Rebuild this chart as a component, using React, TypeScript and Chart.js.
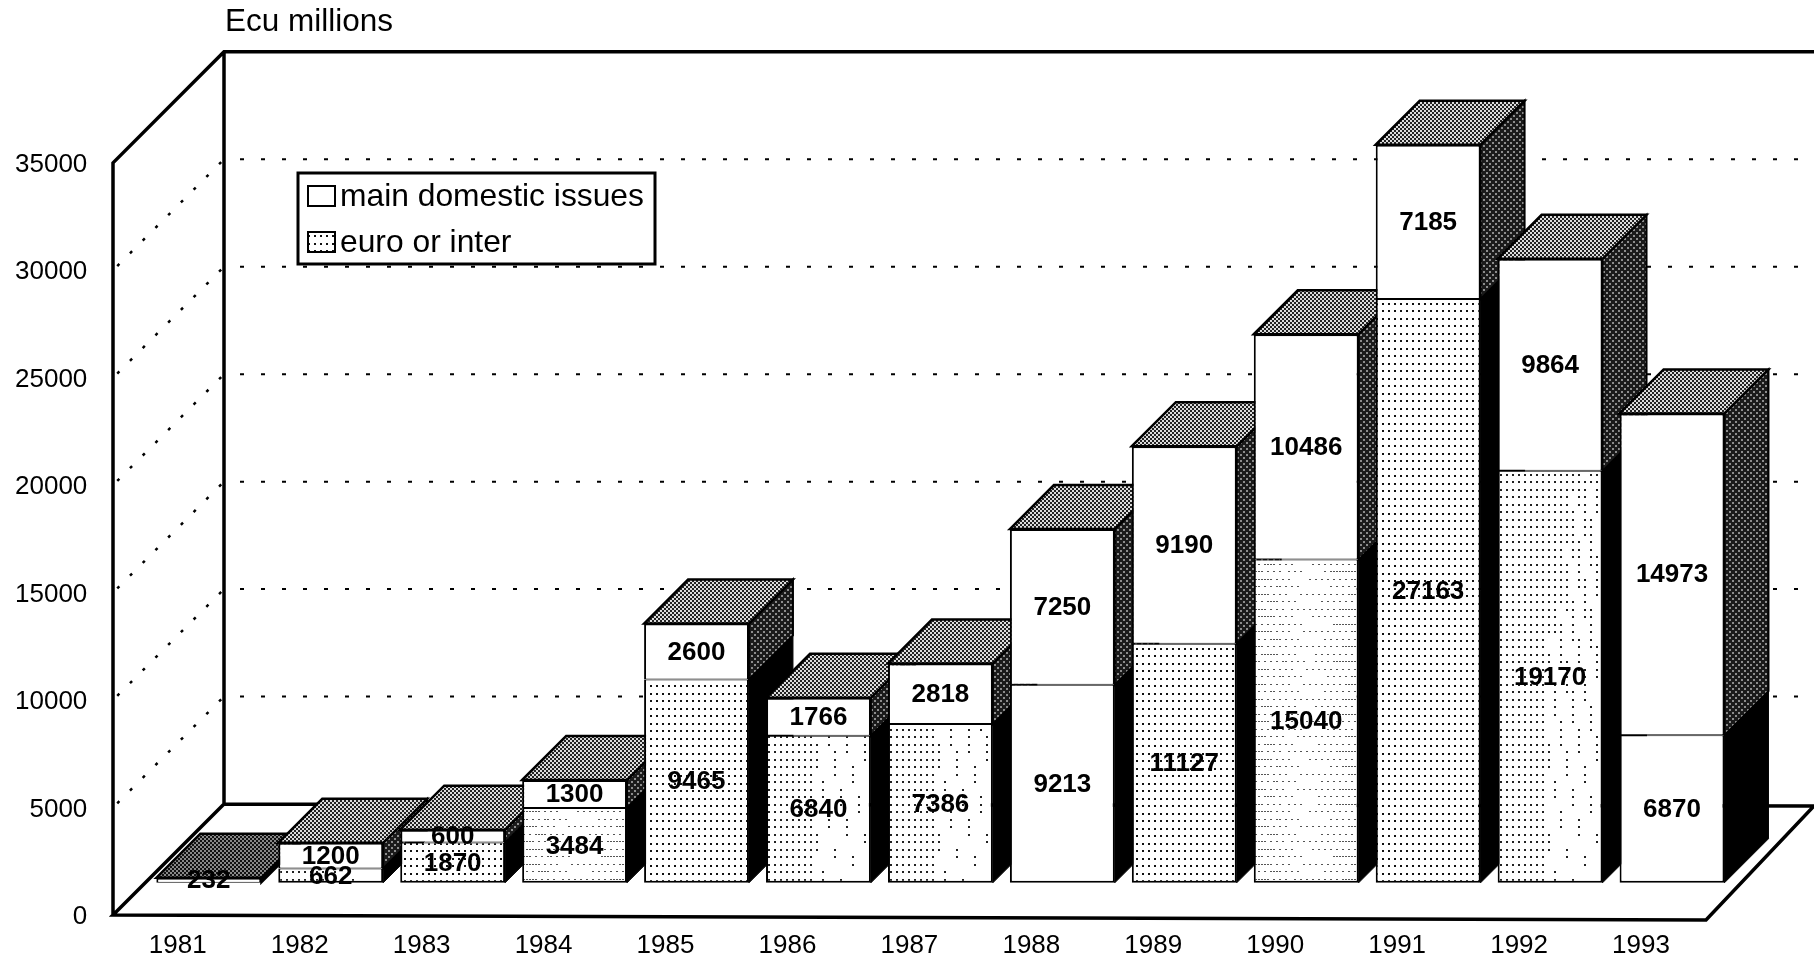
import React, { useEffect, useRef } from "react";
import { Chart, registerables } from "chart.js";

Chart.register(...registerables);

const years = ["1981","1982","1983","1984","1985","1986","1987","1988","1989","1990","1991","1992","1993"];
const euroOrInter = [0,662,1870,3484,9465,6840,7386,9213,11127,15040,27163,19170,6870];
const mainDomestic = [232,1200,600,1300,2600,1766,2818,7250,9190,10486,7185,9864,14973];
const euroFill = ["none","faded","dots","fine","dots","faded","faded","none","dots","fine","dots","faded","none"];
const axisTicks = [0,5000,10000,15000,20000,25000,30000,35000];
const legendNames = ["main domestic issues","euro or inter"];
const unitLabel = "Ecu millions";

const FONT = '"Liberation Sans", Arial, sans-serif';
const WALL = 111;
const BAR_DEPTH = 44;
const TILE_H = 450;

function tile(w: number, h: number, paint: (c: CanvasRenderingContext2D) => void) {
  const cv = document.createElement("canvas");
  cv.width = w; cv.height = h;
  const c = cv.getContext("2d")!;
  paint(c);
  return document.createElement("canvas").getContext("2d")!.createPattern(cv, "repeat")!;
}

function makePatterns() {
  const white = (c: CanvasRenderingContext2D, w: number, h: number) => { c.fillStyle = "#fff"; c.fillRect(0, 0, w, h); };
  const dots = tile(6, 15, (c) => {
    white(c, 6, 15);
    c.fillStyle = "#111";
    c.fillRect(2, 3, 2, 2);
    c.fillRect(2, 10, 2, 2);
  });
  // dense at the top and left of the tile, thinning towards the bottom centre
  const faded = tile(108, TILE_H, (c) => {
    white(c, 108, TILE_H);
    c.fillStyle = "#222";
    const rows = Math.floor(TILE_H / 7.5);
    for (let r = 0; r < rows; r++) for (let k = 0; k < 18; k++) {
      const depth = r / rows;
      const solidCols = depth < 0.45 ? 13 - depth * 8 : 8;
      const keep = k < solidCols || k === 17 || (k * 37 + r * 91) % 100 < 70 * (1 - depth * 0.8);
      if (keep) c.fillRect(k * 6 + 2, Math.round(r * 7.5) + 3, 2, 2);
    }
  });
  const fine = tile(108, TILE_H, (c) => {
    white(c, 108, TILE_H);
    c.fillStyle = "#555";
    const rows = Math.floor(TILE_H / 7.5);
    for (let r = 0; r < rows; r++) for (let k = 0; k < 36; k++) {
      const centre = 1 - Math.abs(k - 17) / 18;
      const keep = (k * 53 + r * 29) % 100 < 85 - 65 * centre;
      if (keep) c.fillRect(k * 3 + 1, Math.round(r * 7.5) + 3, 2, 1);
    }
  });
  const topFace = tile(4, 4, (c) => {
    c.fillStyle = "#dcdcdc"; c.fillRect(0, 0, 4, 4);
    c.fillStyle = "#222"; c.fillRect(0, 0, 2, 2); c.fillRect(2, 2, 2, 2);
  });
  const topDark = tile(4, 4, (c) => {
    c.fillStyle = "#888"; c.fillRect(0, 0, 4, 4);
    c.fillStyle = "#111"; c.fillRect(0, 0, 2, 2); c.fillRect(2, 2, 2, 2);
  });
  const side = tile(6, 6, (c) => {
    c.fillStyle = "#1a1a1a"; c.fillRect(0, 0, 6, 6);
    c.fillStyle = "#8c8c8c"; c.fillRect(1, 1, 2, 2); c.fillRect(4, 4, 2, 2);
  });
  return { dots, faded, fine, topFace, topDark, side };
}

function quad(ctx: CanvasRenderingContext2D, pts: number[][], fill: any, lw: number) {
  ctx.beginPath();
  pts.forEach((p, i) => (i ? ctx.lineTo(p[0], p[1]) : ctx.moveTo(p[0], p[1])));
  ctx.closePath();
  ctx.fillStyle = fill;
  ctx.fill();
  ctx.lineWidth = lw;
  ctx.strokeStyle = "#000";
  ctx.stroke();
}

export default function App() {
  const ref = useRef<HTMLCanvasElement>(null);

  useEffect(() => {
    const pats = makePatterns();
    const lowerFill = euroFill.map((k) => (k === "none" ? "#fff" : (pats as any)[k]));

    const framePlugin = {
      id: "frame",
      beforeDatasetsDraw(chart: any) {
        const { ctx } = chart;
        const yF = chart.scales.yFront;
        const y0 = yF.getPixelForValue(0);
        const yTop = yF.getPixelForValue(35000);
        const xF = 113;
        const xB = xF + WALL;
        const W = chart.width;
        ctx.save();
        ctx.strokeStyle = "#000";
        ctx.lineCap = "butt";
        for (const v of axisTicks) {
          if (v === 0 || v === 35000) continue;
          const p = yF.getPixelForValue(v);
          ctx.lineWidth = 2;
          ctx.setLineDash([4, 17]);
          ctx.lineDashOffset = -16;
          ctx.beginPath(); ctx.moveTo(xB, p - WALL); ctx.lineTo(W, p - WALL); ctx.stroke();
          ctx.lineWidth = 2.5;
          ctx.setLineDash([3, 15]);
          ctx.lineDashOffset = -6;
          ctx.beginPath(); ctx.moveTo(xF, p); ctx.lineTo(xB, p - WALL); ctx.stroke();
        }
        ctx.setLineDash([]);
        ctx.lineWidth = 3.5;
        ctx.lineJoin = "miter";
        ctx.beginPath();
        ctx.moveTo(xF, y0); ctx.lineTo(xF, yTop); ctx.lineTo(xB, yTop - WALL); ctx.lineTo(W, yTop - WALL);
        ctx.moveTo(xB, yTop - WALL); ctx.lineTo(xB, y0 - WALL); ctx.lineTo(W, y0 - WALL + 2);
        ctx.moveTo(xB, y0 - WALL); ctx.lineTo(xF, y0); ctx.lineTo(1706, y0 + 5); ctx.lineTo(W, y0 - WALL + 2);
        ctx.stroke();
        ctx.restore();
      },
      beforeDatasetDraw() {
        return false;
      },
      afterDatasetsDraw(chart: any) {
        const { ctx } = chart;
        const lower = chart.getDatasetMeta(0).data;
        const upper = chart.getDatasetMeta(1).data;
        const d = BAR_DEPTH;
        ctx.save();
        ctx.lineJoin = "miter";
        years.forEach((_, i) => {
          const lo = lower[i].getProps(["x", "y", "base", "width"]);
          const up = upper[i].getProps(["x", "y", "base", "width"]);
          const l = up.x - up.width / 2;
          const r = up.x + up.width / 2;
          const mid = up.base;
          quad(ctx, [[r, lo.base], [r + d, lo.base - d], [r + d, mid - d], [r, mid]], "#000", 1);
          quad(ctx, [[r, mid], [r + d, mid - d], [r + d, up.y - d], [r, up.y]], i === 0 ? "#000" : pats.side, 2);
          quad(ctx, [[l, up.y], [l + d, up.y - d], [r + d, up.y - d], [r, up.y]], i === 0 ? pats.topDark : pats.topFace, 2.5);
          const anchor = new DOMMatrix().translate(Math.round(l), Math.round(lo.base - TILE_H));
          pats.faded.setTransform(anchor);
          pats.fine.setTransform(anchor);
          if (euroOrInter[i] > 0) lower[i].draw(ctx);
          upper[i].draw(ctx);
        });
        ctx.fillStyle = "#000";
        ctx.font = `bold 26px ${FONT}`;
        ctx.textAlign = "center";
        ctx.textBaseline = "middle";
        [euroOrInter, mainDomestic].forEach((vals, k) => {
          const els = k === 0 ? lower : upper;
          vals.forEach((v, i) => {
            if (!v) return;
            const e = els[i].getProps(["x", "y", "base"]);
            ctx.fillText(String(v), e.x, (e.y + e.base) / 2 + 1);
          });
        });
        ctx.restore();
      },
      afterDraw(chart: any) {
        const { ctx } = chart;
        ctx.save();
        ctx.fillStyle = "#000";
        ctx.textBaseline = "middle";
        ctx.textAlign = "left";
        ctx.font = `31.5px ${FONT}`;
        ctx.fillText(unitLabel, 225, 22);
        ctx.fillStyle = "#fff";
        ctx.fillRect(298, 173, 357, 91);
        ctx.lineWidth = 3;
        ctx.strokeStyle = "#000";
        ctx.strokeRect(298, 173, 357, 91);
        const swatches = ["#fff", pats.dots];
        legendNames.forEach((name, k) => {
          const y = 196 + k * 46;
          ctx.fillStyle = swatches[k];
          ctx.lineWidth = 2;
          ctx.fillRect(308, y - 10, 27, 20);
          ctx.strokeRect(308, y - 10, 27, 20);
          ctx.fillStyle = "#000";
          ctx.font = `31.8px ${FONT}`;
          ctx.fillText(name, 340, y + 1);
        });
        ctx.restore();
      },
    };

    const chart = new Chart(ref.current!, {
      type: "bar",
      data: {
        labels: years,
        datasets: [
          { label: legendNames[1], data: euroOrInter, backgroundColor: lowerFill, yAxisID: "y", borderWidth: { top: 1, left: 2, right: 2, bottom: 2 } },
          { label: legendNames[0], data: mainDomestic, backgroundColor: "#fff", yAxisID: "y", borderWidth: { top: 2, left: 2, right: 2, bottom: 1 } },
        ],
      },
      options: {
        responsive: false,
        animation: false,
        events: [],
        layout: { padding: { left: 0, top: 51, right: 81, bottom: 0 } },
        datasets: {
          bar: {
            categoryPercentage: 1,
            barPercentage: 0.86,
            borderColor: "#000",
            borderSkipped: false,
          },
        },
        plugins: { legend: { display: false }, tooltip: { enabled: false }, title: { display: false } },
        scales: {
          x: {
            stacked: true,
            grid: { display: false, drawTicks: false },
            border: { display: false },
            ticks: { color: "#000", font: { family: FONT, size: 26 }, labelOffset: -31, padding: 15, maxRotation: 0, autoSkip: false },
            afterFit: (s: any) => { s.height = 44; s.paddingLeft = 0; s.paddingRight = 0; },
          },
          y: {
            display: false,
            stacked: true,
            min: -1498,
            max: 38707,
          },
          yFront: {
            position: "left",
            min: 0,
            max: 40205,
            grid: { display: false, drawTicks: false },
            border: { display: false },
            afterBuildTicks: (s: any) => { s.ticks = axisTicks.map((value) => ({ value })); },
            ticks: { color: "#000", font: { family: FONT, size: 26 }, padding: 60.5, labelOffset: 2, callback: (v: any) => String(v) },
            afterFit: (s: any) => { s.width = 147.8; s.paddingTop = 0; s.paddingBottom = 0; },
          },
        },
      },
      plugins: [framePlugin],
    } as any);
    return () => chart.destroy();
  }, []);

  return (
    <canvas
      ref={ref}
      width={1814}
      height={959}
      style={{ position: "absolute", left: 0, top: 0, display: "block" }}
    />
  );
}
